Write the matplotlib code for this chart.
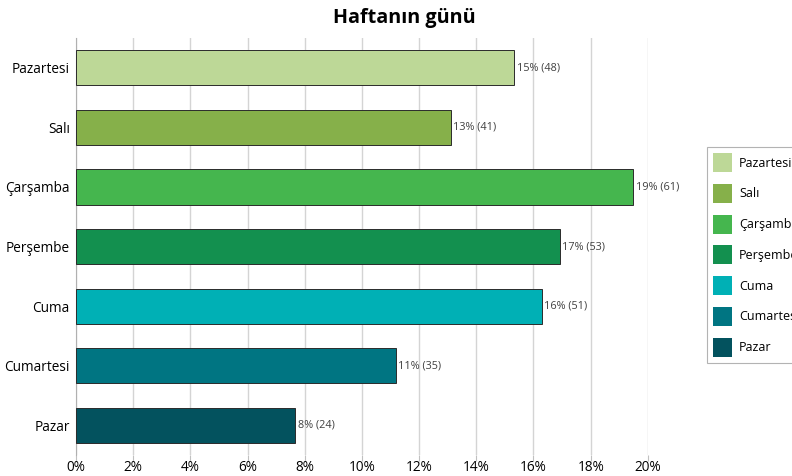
import matplotlib.pyplot as plt

days = ["Pazartesi", "Salı", "Çarşamba", "Perşembe", "Cuma", "Cumartesi", "Pazar"]
counts = [48, 41, 61, 53, 51, 35, 24]
colors = ["#BDD897", "#86B04A", "#45B64E", "#13904F", "#00B0B5", "#007582", "#03525E"]
x_ticks = [0, 2, 4, 6, 8, 10, 12, 14, 16, 18, 20]

plt.rcParams['font.family'] = ['Open Sans', 'DejaVu Sans']

total = sum(counts)
shares = [100 * c / total for c in counts]

fig = plt.figure(figsize=(7.92, 4.76), dpi=100)
ax = fig.add_axes([0.096, 0.044, 0.722, 0.876])

pos = list(range(len(days)))
bars = ax.barh(pos, shares, height=0.59, color=colors, edgecolor="#2b2b2b",
               linewidth=0.7, zorder=3)

# percentage and count next to each bar
for y, s, c in zip(pos, shares, counts):
    ax.text(s + 0.08, y, "{}% ({})".format(round(s), c), va="center", ha="left",
            fontsize=7.8, color="#404040", zorder=4)

ax.set_ylim(6.5, -0.5)
ax.set_xlim(0, 20)
ax.set_yticks(pos)
ax.set_yticklabels(days, fontsize=9.8)
ax.set_xticks(x_ticks)
ax.set_xticklabels(["{}%".format(t) for t in x_ticks], fontsize=9.8)
ax.grid(axis="x", color="#d4d4d4", linewidth=1, zorder=0)

for side in ["top", "right", "bottom"]:
    ax.spines[side].set_visible(False)
ax.spines["left"].set_color("#b0b0b0")
ax.tick_params(axis="y", length=0, pad=4.5)
ax.tick_params(axis="x", length=4, color="#c0c0c0", pad=-0.5)

fig.text(404 / 792, 1 - 18 / 476, "Haftanın günü", fontsize=14.2, fontweight="bold",
         ha="center", va="center")

leg = fig.legend(bars, days, loc="upper left", bbox_to_anchor=(707 / 792, 1 - 147 / 476),
                 frameon=True, fancybox=False, edgecolor="#a0a0a0", fontsize=9,
                 handlelength=1.52, handleheight=1.96, labelspacing=0.94,
                 handletextpad=0.55, borderpad=0.5, borderaxespad=0)
leg.get_frame().set_linewidth(0.8)
for h in leg.legend_handles:
    h.set_edgecolor("none")

fig.savefig("out.png", dpi=100)
